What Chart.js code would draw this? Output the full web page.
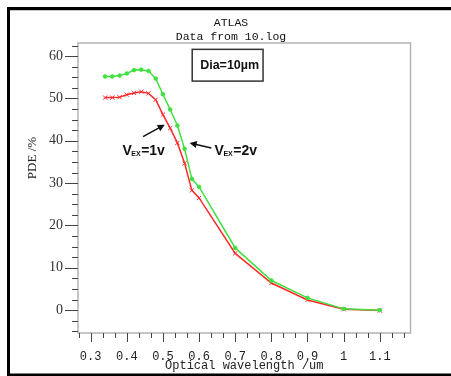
<!DOCTYPE html>
<html>
<head>
<meta charset="utf-8">
<script src="https://cdn.jsdelivr.net/npm/chart.js@4.4.0/dist/chart.umd.min.js"></script>
<style>
html,body{margin:0;padding:0;background:#fff;}
#wrap{width:451px;height:376px;position:relative;}
</style>
</head>
<body>
<div id="wrap"><canvas id="c" width="451" height="376"></canvas></div>
<script>
// ---- data ----
const wavelength = [0.34,0.36,0.38,0.40,0.42,0.44,0.46,0.48,0.50,0.52,0.54,0.56,0.58,0.60,0.70,0.80,0.90,1.00,1.10];
const pdeVex2 = [55.2,55.2,55.4,55.9,56.7,56.8,56.5,54.7,51.0,47.4,43.6,38.1,31.0,29.1,14.7,7.0,2.9,0.3,0.0];
const pdeVex1 = [50.2,50.2,50.3,50.9,51.3,51.6,51.2,49.7,46.2,43.0,39.5,34.7,28.3,26.5,13.4,6.4,2.4,0.2,-0.1];
const xTickLabels = [0.3,0.4,0.5,0.6,0.7,0.8,0.9,1.0,1.1];
const yTickLabels = [0,10,20,30,40,50,60];
const titleLines = ['ATLAS','Data from 10.log'];
const xTitle = 'Optical wavelength /um';
const yTitle = 'PDE /%';
const boxLabel = 'Dia=10\u00b5m';

const toPts = (ys) => wavelength.map((x,i)=>({x:x,y:ys[i]}));

function arrow(ctx, x1, y1, x2, y2){
  const a = Math.atan2(y2-y1, x2-x1);
  const hl = 7, hw = 3.5;
  ctx.beginPath();
  ctx.moveTo(x1,y1);
  ctx.lineTo(x2 - Math.cos(a)*hl*0.8, y2 - Math.sin(a)*hl*0.8);
  ctx.stroke();
  ctx.beginPath();
  ctx.moveTo(x2,y2);
  ctx.lineTo(x2 - Math.cos(a)*hl - Math.sin(a)*hw, y2 - Math.sin(a)*hl + Math.cos(a)*hw);
  ctx.lineTo(x2 - Math.cos(a)*hl + Math.sin(a)*hw, y2 - Math.sin(a)*hl - Math.cos(a)*hw);
  ctx.closePath();
  ctx.fill();
}

function vexLabel(ctx, x, y, num){
  ctx.textAlign='left'; ctx.textBaseline='alphabetic';
  ctx.font='bold 14px "Liberation Sans"';
  ctx.fillText('V', x, y);
  let w = ctx.measureText('V').width;
  ctx.font='bold 7px "Liberation Sans"';
  ctx.fillText('EX', x+w-0.5, y+1);
  w += ctx.measureText('EX').width;
  ctx.font='bold 14px "Liberation Sans"';
  ctx.fillText('='+num+'v', x+w, y);
}

const deco = {
  id:'deco',
  beforeDraw(chart){
    const ctx = chart.ctx;
    ctx.save();
    ctx.fillStyle='#fff';
    ctx.fillRect(0,0,chart.width,chart.height);
    ctx.restore();
  },
  beforeDatasetsDraw(chart){
    const {ctx, chartArea:a, scales:{x,y}} = chart;
    ctx.save();
    // plot frame
    ctx.strokeStyle='#b4b4b4'; ctx.lineWidth=1.5;
    ctx.strokeRect(a.left, a.top, a.right-a.left, a.bottom-a.top);
    // y ticks
    ctx.strokeStyle='#444'; ctx.lineWidth=1;
    for(let v=-5; v<=y.max; v+=2.5){
      const p = Math.round(y.getPixelForValue(v))+0.5;
      const major = Math.abs(v % 10) < 1e-6;
      ctx.beginPath(); ctx.moveTo(a.left - (major?13:6), p); ctx.lineTo(a.left, p); ctx.stroke();
    }
    // x ticks
    for(let k=8; k<=35; k++){
      const v = k/30;
      if(v < x.min-1e-6 || v > x.max+1e-6) continue;
      const p = Math.round(x.getPixelForValue(v))+0.5;
      const major = (k % 3) === 0;
      ctx.beginPath(); ctx.moveTo(p, a.bottom); ctx.lineTo(p, a.bottom + (major?9:5)); ctx.stroke();
    }
    ctx.restore();
  },
  afterDraw(chart){
    const {ctx, chartArea:a, scales:{x,y}} = chart;
    ctx.save();
    // outer black frame (left, top, bottom)
    ctx.fillStyle='#000';
    ctx.fillRect(7,7,chart.width-7,3);
    ctx.fillRect(7,7,3,chart.height-7);
    ctx.fillRect(7,chart.height-2.5,chart.width-7,2.5);
    ctx.fillStyle='#c8c8c8';
    ctx.fillRect(10,10,chart.width-10,1);
    // title
    ctx.fillStyle='#111';
    ctx.textAlign='center'; ctx.textBaseline='middle';
    ctx.font='11.5px "Liberation Mono"';
    ctx.fillText(titleLines[0], 231, 23);
    ctx.fillText(titleLines[1], 231, 37);
    // y title
    ctx.save();
    ctx.translate(33, 158);
    ctx.rotate(-Math.PI/2);
    ctx.font='13px "Liberation Serif"';
    ctx.fillStyle='#222';
    ctx.fillText(yTitle, 0, 0);
    ctx.restore();
    // Dia box
    const bx1 = x.getPixelForValue(0.581), bx2 = x.getPixelForValue(0.777);
    const by1 = y.getPixelForValue(61.6), by2 = y.getPixelForValue(54.1);
    ctx.strokeStyle='#333'; ctx.lineWidth=1.5;
    ctx.strokeRect(bx1, by1, bx2-bx1, by2-by1);
    ctx.fillStyle='#111';
    ctx.font='bold 12.5px "Liberation Sans"';
    ctx.textAlign='center'; ctx.textBaseline='middle';
    ctx.fillText(boxLabel, (bx1+bx2)/2+2, (by1+by2)/2);
    // V_EX labels
    ctx.fillStyle='#111';
    vexLabel(ctx, x.getPixelForValue(0.388), y.getPixelForValue(36.6), 1);
    vexLabel(ctx, x.getPixelForValue(0.643), y.getPixelForValue(36.6), 2);
    ctx.strokeStyle='#111'; ctx.fillStyle='#111'; ctx.lineWidth=1.5;
    arrow(ctx, x.getPixelForValue(0.445), y.getPixelForValue(41.0), x.getPixelForValue(0.505), y.getPixelForValue(43.8));
    arrow(ctx, x.getPixelForValue(0.634), y.getPixelForValue(38.3), x.getPixelForValue(0.574), y.getPixelForValue(39.5));
    ctx.restore();
  }
};

new Chart(document.getElementById('c'), {
  type:'line',
  data:{
    datasets:[
      {label:'VEX=2v', data:toPts(pdeVex2), borderColor:'#3fe03f', backgroundColor:'#3fe03f',
       borderWidth:1.5, pointStyle:'circle', pointRadius:1.8, pointBorderWidth:1, tension:0},
      {label:'VEX=1v', data:toPts(pdeVex1), borderColor:'#ff2a2a', backgroundColor:'#ff2a2a',
       borderWidth:1.5, pointStyle:'crossRot', pointRadius:3, pointBorderWidth:1, tension:0}
    ]
  },
  options:{
    responsive:false, animation:false,
    layout:{padding:{top:43, right:40.5, left:0, bottom:0}},
    plugins:{legend:{display:false}, tooltip:{enabled:false}, title:{display:false}},
    scales:{
      x:{type:'linear', min:0.265, max:1.185,
         grid:{display:false, drawTicks:false}, border:{display:false},
         afterBuildTicks:(s)=>{s.ticks = xTickLabels.map(v=>({value:v}));},
         afterFit:(s)=>{s.height = 43;},
         ticks:{padding:17, color:'#222', font:{family:'"Liberation Mono"', size:12},
                callback:(v)=>String(Number(Number(v).toFixed(1)))},
         title:{display:true, text:xTitle, color:'#222', font:{family:'"Liberation Mono"', size:12}, padding:{top:0,bottom:3}}
      },
      y:{type:'linear', min:-5.4, max:63.1,
         grid:{display:false, drawTicks:false}, border:{display:false},
         afterBuildTicks:(s)=>{s.ticks = yTickLabels.map(v=>({value:v}));},
         afterFit:(s)=>{s.width = 78;},
         ticks:{padding:15, color:'#333', font:{family:'"Liberation Serif"', size:14}}
      }
    }
  },
  plugins:[deco]
});
</script>
</body>
</html>
